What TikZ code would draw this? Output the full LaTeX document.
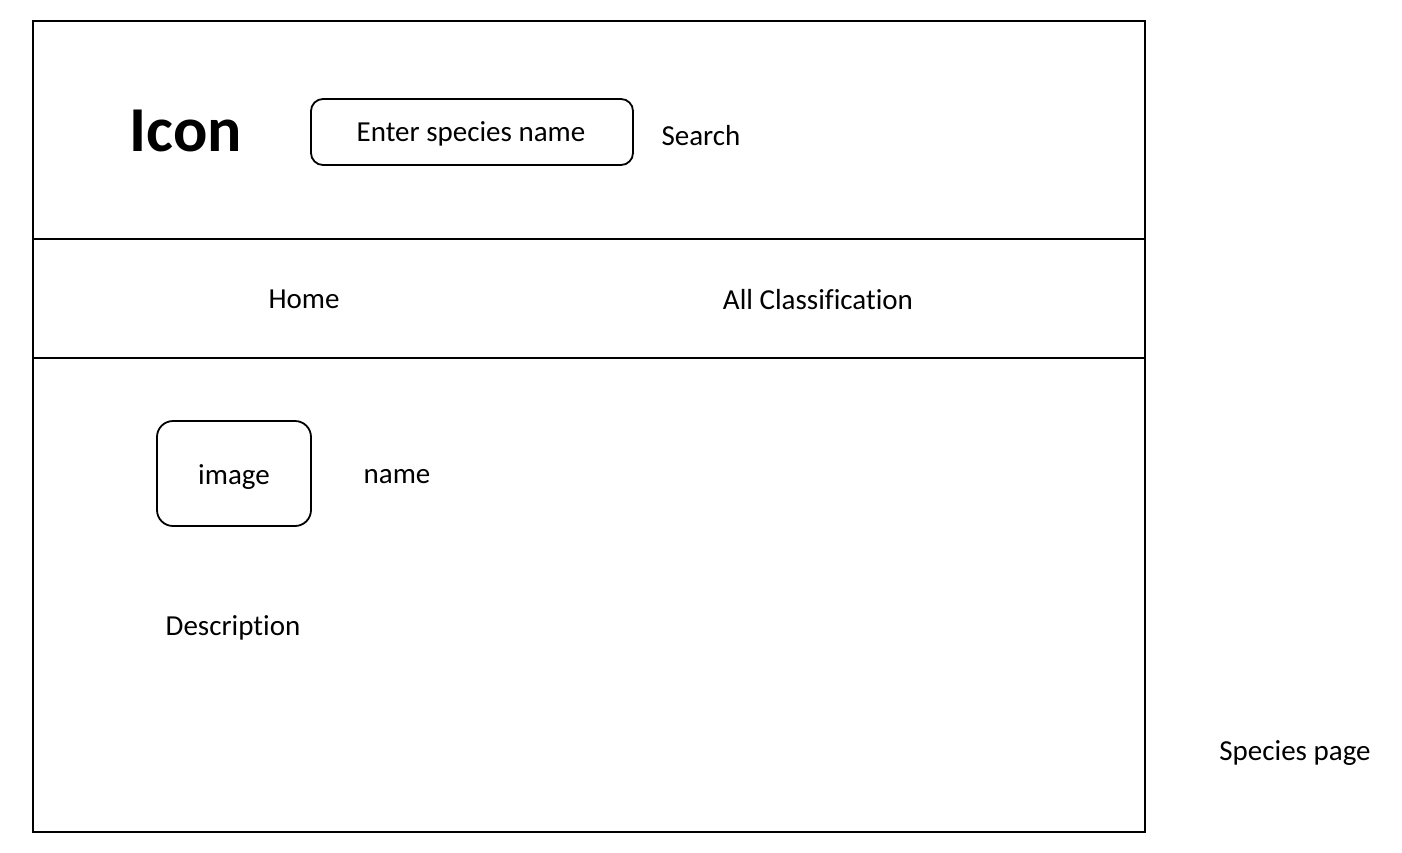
\documentclass[tikz,border=0pt]{standalone}
\usepackage{fontspec}
\setmainfont{Carlito}[Ligatures={NoCommon}]
\begin{document}
\begin{tikzpicture}[x=1pt,y=-1pt,
  frame/.style={draw=black,line width=1.8pt},
  rbox/.style={draw=black,line width=1.8pt,rounded corners=12pt},
  lbl/.style={inner sep=0pt,font=\fontsize{29}{34}\selectfont},
  big/.style={inner sep=0pt,font=\fontsize{64}{74}\selectfont\bfseries}]
\useasboundingbox (0,0) rectangle (1402,852);
\draw[frame] (33,21) rectangle (1145,832);
\coordinate (l1a) at (33,239); \coordinate (l1b) at (1145,239);
\coordinate (l2a) at (33,358); \coordinate (l2b) at (1145,358);
\draw[frame] (l1a) -- (l1b);
\draw[frame] (l2a) -- (l2b);
\draw[rbox] (311,99) rectangle (633,165);
\draw[rbox,rounded corners=16pt] (157,421) rectangle (311,526);
\node[big] (icon) at (186,131) {Icon};
\node[lbl] (enter) at (471,134) {Enter species name};
\node[lbl] (search) at (701,136) {Search};
\node[lbl] (home) at (304,299) {Home};
\node[lbl] (allc) at (818,300) {All Classification};
\node[lbl] (image) at (234,477) {image};
\node[lbl] (name) at (397,477) {name};
\node[lbl] (desc) at (233,628) {Description};
\node[lbl] (sp) at (1295,753) {Species page};
\end{tikzpicture}
\end{document}
